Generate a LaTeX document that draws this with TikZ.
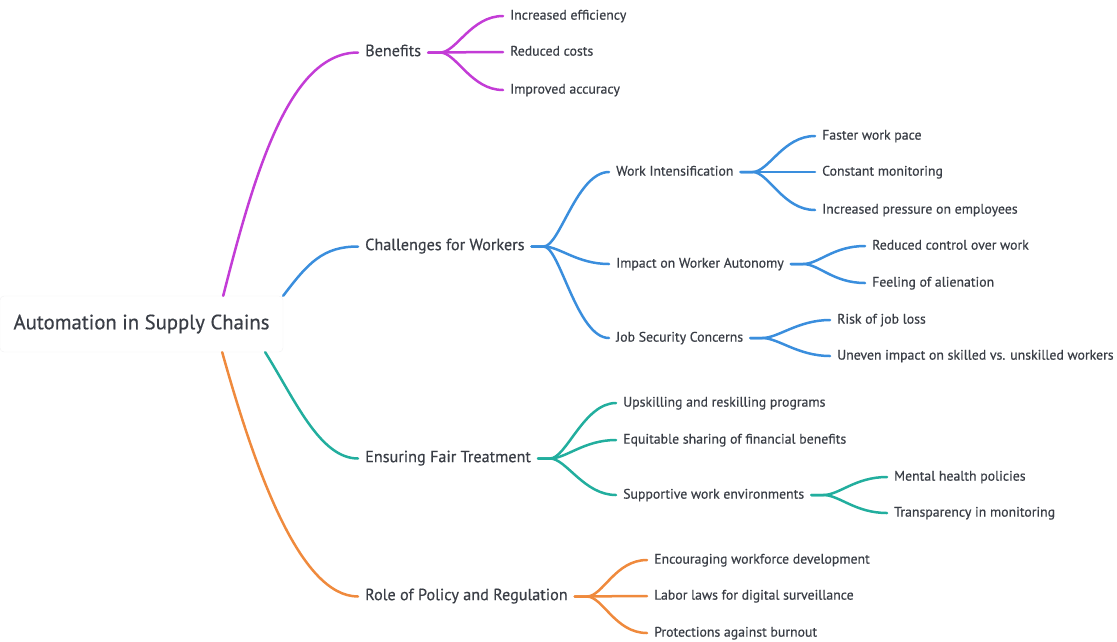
\documentclass[tikz,border=0pt]{standalone}
\usepackage{fontspec}
\setmainfont{PT Sans}[FakeBold=0.5]
\usepackage{tikz}
\usetikzlibrary{positioning, calc}
\definecolor{mapPurple}{HTML}{C33CD6}
\definecolor{mapBlue}{HTML}{3A8EDD}
\definecolor{mapTeal}{HTML}{22AE9E}
\definecolor{mapOrange}{HTML}{EF8A3D}
\definecolor{textDark}{HTML}{3A3E46}
\definecolor{rootEdge}{HTML}{F1F1F3}
\tikzset{
  linkP/.style={line width=2.5pt, mapPurple, line cap=round},
  linkB/.style={line width=2.5pt, mapBlue, line cap=round},
  linkT/.style={line width=2.5pt, mapTeal, line cap=round},
  linkO/.style={line width=2.5pt, mapOrange, line cap=round},
  branch/.style={to path={-- ++(12pt,0) .. controls +(16pt,0) and +(-32pt,0)
                 .. (\tikztotarget) \tikztonodes}},
  rootBox/.style={rectangle, rounded corners=4pt, draw=rootEdge, fill=white,
                  text=textDark, font=\fontsize{20.7}{24}\selectfont,
                  minimum width=283pt, minimum height=56pt},
  topic/.style={anchor=west, inner xsep=7pt, inner ysep=0pt, text=textDark,
                text height=1.75ex, text depth=0.3ex,
                font=\fontsize{16.2}{19}\selectfont},
  leaf/.style={anchor=west, inner xsep=7pt, inner ysep=0pt, text=textDark,
               text height=1.75ex, text depth=0.3ex,
               font=\fontsize{13.8}{16}\selectfont},
}

\begin{document}
\begin{tikzpicture}[x=1pt, y=-1pt]
  \useasboundingbox (0,0) rectangle (1117,641);
  \node[rootBox] (root) at (141.5,324) {Automation in Supply Chains};

  % main branches
  \node[topic] (ben)  at (358,52.5)  {Benefits};
  \node[topic] (chal) at (358,246.5) {Challenges for Workers};
  \node[topic] (fair) at (358,458.5) {Ensuring Fair Treatment};
  \node[topic] (pol)  at (358,596.5) {Role of Policy and Regulation};

  \draw[linkP] ([xshift=-60pt]root.north east) .. controls +(32,-126) and +(-68,0) .. (ben.west);
  \draw[linkB] (root.north east) .. controls +(25,-33) and +(-35,0) .. (chal.west);
  \draw[linkT] ([xshift=-18pt]root.south east) .. controls +(30,48) and +(-38,0) .. (fair.west);
  \draw[linkO] ([xshift=-61pt]root.south east) .. controls +(33,118) and +(-58,0) .. (pol.west);

  % benefits
  \foreach \y/\t [count=\k] in {16/Increased efficiency, 52/Reduced costs,
      90/Improved accuracy} {
    \node[leaf] (b\k) at (503,\y) {\t};
    \draw[linkP] (ben.east) to[branch] (b\k.west);
  }

  % challenges
  \node[leaf] (wi)  at (609,172) {Work Intensification};
  \node[leaf] (wa)  at (609,264) {Impact on Worker Autonomy};
  \node[leaf] (js)  at (609,338) {Job Security Concerns};
  \foreach \n in {wi,wa,js}
    \draw[linkB] (chal.east) to[branch] (\n.west);
  \foreach \y/\t [count=\k] in {136/Faster work pace, 172/Constant monitoring,
      210/Increased pressure on employees} {
    \node[leaf] (wi\k) at (815,\y) {\t};
    \draw[linkB] (wi.east) to[branch] (wi\k.west);
  }
  \foreach \y/\t [count=\k] in {246/Reduced control over work,
      283/Feeling of alienation} {
    \node[leaf] (wa\k) at (865,\y) {\t};
    \draw[linkB] (wa.east) to[branch] (wa\k.west);
  }
  \foreach \y/\t [count=\k] in {320/Risk of job loss,
      356/Uneven impact on skilled vs. unskilled workers} {
    \node[leaf] (js\k) at (830,\y) {\t};
    \draw[linkB] (js.east) to[branch] (js\k.west);
  }

  % fair treatment
  \node[leaf] (up) at (616,403) {Upskilling and reskilling programs};
  \node[leaf] (eq) at (616,440) {Equitable sharing of financial benefits};
  \node[leaf] (sw) at (616,495) {Supportive work environments};
  \foreach \n in {up,eq,sw}
    \draw[linkT] (fair.east) to[branch] (\n.west);
  \foreach \y/\t [count=\k] in {477/Mental health policies,
      513/Transparency in monitoring} {
    \node[leaf] (sw\k) at (887,\y) {\t};
    \draw[linkT] (sw.east) to[branch] (sw\k.west);
  }

  % policy
  \foreach \y/\t [count=\k] in {560/Encouraging workforce development,
      596/Labor laws for digital surveillance, 633/Protections against burnout} {
    \node[leaf] (p\k) at (647,\y) {\t};
    \draw[linkO] (pol.east) to[branch] (p\k.west);
  }
\end{tikzpicture}
\end{document}
